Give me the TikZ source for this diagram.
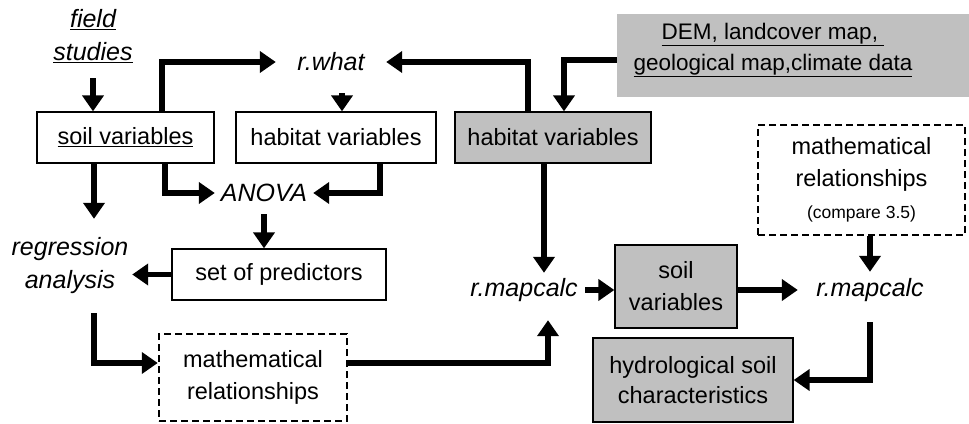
\documentclass[tikz,border=0pt]{standalone}
\usepackage{fontspec}
\setmainfont{Liberation Sans}
\usetikzlibrary{arrows.meta}
\definecolor{boxgray}{RGB}{192,192,192}

\begin{document}
\begin{tikzpicture}[x=1pt,y=-1pt,
  every node/.style={font=\fontsize{23.5}{32}\selectfont, align=center},
  box/.style={draw=black, line width=1.3pt, inner sep=0pt},
  graybox/.style={box, fill=boxgray},
  dashbox/.style={draw=black, line width=2.5pt, dash pattern=on 7pt off 4pt, inner sep=0pt},
  label/.style={inner sep=0pt, font=\fontsize{25}{33}\selectfont\itshape},
  arr/.style={line width=5.5pt, -{Triangle[length=16pt,width=21pt]}}
]
\useasboundingbox (0,0) rectangle (969,423);

% boxes
\node[box, minimum width=177pt, minimum height=51pt] (soil) at (125.5,137.5) {\underline{soil variables}};
\node[box, minimum width=200pt, minimum height=51pt] (whab) at (336,137.5) {habitat variables};
\node[graybox, minimum width=196pt, minimum height=51pt] (ghab) at (553,137.5) {habitat variables};
\node[fill=boxgray, minimum width=352pt, minimum height=83pt, inner sep=0pt] (dem) at (793,55.5) {};
\node[inner sep=0pt, font=\fontsize{22.5}{31}\selectfont] (demtext) at (773,50) {\underline{DEM, landcover map,\ }\\\underline{geological map,climate data}};
\node[box, minimum width=214pt, minimum height=51pt] (spred) at (279,274.5) {set of predictors};
\node[dashbox, minimum width=188pt, minimum height=87pt] (lmath) at (253,377.5) {mathematical\\relationships};
\node[graybox, minimum width=122pt, minimum height=83pt] (gsoil) at (676,286.5) {soil\\variables};
\node[dashbox, minimum width=207pt, minimum height=110pt] (rmath) at (861.5,180) {mathematical\\relationships\\{\fontsize{17.5}{22}\selectfont (compare 3.5)}};
\node[graybox, minimum width=200pt, minimum height=84pt, font=\fontsize{23.5}{30}\selectfont] (hydro) at (693,380) {hydrological soil\\characteristics};

% italic labels
\node[label, minimum width=90pt, minimum height=84pt] (field) at (93,36) {\underline{field}\\\underline{studies}};
\node[label, minimum width=110pt, minimum height=62pt] (rwhat) at (331,62) {r.what};
\node[label, minimum width=98pt, minimum height=42pt] (anova) at (264,193) {ANOVA};
\node[label, minimum width=124pt, minimum height=94pt] (regr) at (70,266) {regression\\analysis};
\node[label, minimum width=122pt, minimum height=34pt] (rmc1) at (524,290) {r.mapcalc};
\node[label, minimum width=144pt, minimum height=36pt] (rmc2) at (870,290) {r.mapcalc};

% connectors
\draw[arr] (field.south) -- (field.south |- soil.north);
\draw[arr] ([xshift=36.5pt]soil.north) |- (rwhat.west);
\draw[arr] ([xshift=11pt]rwhat.south) -- ([xshift=11pt]rwhat.south |- whab.north);
\draw[arr] ([xshift=-25pt]ghab.north) |- (rwhat.east);
\draw[arr] ([yshift=-4.5pt]dem.west) -| ([xshift=11pt]ghab.north);
\draw[arr] ([xshift=-31.5pt]soil.south) -- ([xshift=-31.5pt]soil.south |- regr.north);
\draw[arr] ([xshift=39.5pt]soil.south) |- (anova.west);
\draw[arr] ([xshift=44pt]whab.south) |- (anova.east);
\draw[arr] (anova.south) -- (anova.south |- spred.north);
\draw[arr] (spred.west) -- (spred.west -| regr.east);
\draw[arr] ([xshift=24pt]regr.south) |- ([yshift=14.5pt]lmath.west);
\draw[arr, shorten >=13pt] ([yshift=14.5pt]lmath.east) -| ([xshift=24pt]rmc1.south);
\draw[arr] ([xshift=-9pt]ghab.south) -- ([xshift=-9pt]ghab.south |- rmc1.north);
\draw[arr] (rmc1.east) -- (rmc1.east -| gsoil.west);
\draw[arr] (gsoil.east |- rmc2.west) -- (rmc2.west);
\draw[arr] (rmath.south -| rmc2.north) -- (rmc2.north);
\draw[arr, shorten <=14pt] (rmc2.south) |- (hydro.east);
\end{tikzpicture}
\end{document}
